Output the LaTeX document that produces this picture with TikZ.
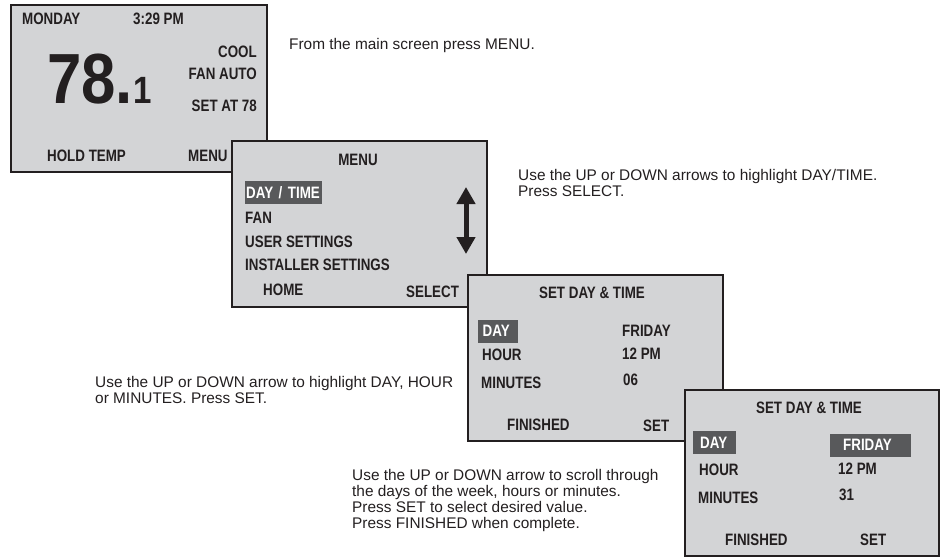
\documentclass[tikz,border=0pt]{standalone}
\usepackage{fontspec}
\setmainfont{Liberation Sans}
\newfontfamily\lcdfont{Liberation Sans}[FakeStretch=0.81]
\newfontfamily\tempfont{Liberation Sans}[FakeStretch=0.87]
\usepackage{xcolor}
\usepackage{tikz}
\usetikzlibrary{arrows.meta}
\definecolor{lcdgray}{RGB}{211,212,214}
\definecolor{hilite}{RGB}{88,89,91}
\definecolor{ink}{RGB}{35,31,32}

\begin{document}
\begin{tikzpicture}[
  x=1pt, y=-1pt,
  screen/.style={rectangle, draw=ink, line width=2pt, fill=lcdgray, inner sep=0pt, outer sep=0pt, anchor=north west},
  lcd/.style={inner sep=0pt, anchor=west, text=ink, font=\lcdfont\bfseries\fontsize{16.5}{18}\selectfont},
  title/.style={lcd, anchor=center},
  hilite/.style={lcd, fill=hilite, text=white, inner ysep=0pt, minimum height=23pt, align=left},
  note/.style={inner sep=0pt, anchor=north west, align=left, text=ink, font=\fontsize{15.4}{16}\selectfont},
  updown/.style={{Triangle[width=18pt,length=17pt]}-{Triangle[width=18pt,length=17pt]}, line width=5pt, draw=ink}
]
\useasboundingbox (0,0) rectangle (941,557);

\node[screen, minimum width=256pt, minimum height=167pt] (home) at (11,5) {};
\node[lcd] (homeDay) at (22,19) {MONDAY};
\node[lcd] (homeClock) at (133,19) {3:29 PM};
\node[lcd, anchor=base west, font=\tempfont\bfseries\fontsize{71}{71}\selectfont] (homeTemp) at (47,103) {78.{\fontsize{38}{38}\selectfont 1}};
\node[lcd, anchor=east] (homeMode) at (257,52) {COOL};
\node[lcd, anchor=east] (homeFan) at (257,74) {FAN AUTO};
\node[lcd, anchor=east] (homeSet) at (257,106) {SET AT 78};
\node[lcd] (homeHold) at (47,156) {HOLD TEMP};
\node[lcd] (homeMenu) at (188,156) {MENU};
\node[note, anchor=base west] (noteMenu) at (289,49) {From the main screen press MENU.};

\node[screen, minimum width=255pt, minimum height=166pt] (menu) at (232,141) {};
\node[title] (menuTitle) at (358,160) {MENU};
\node[hilite, inner xsep=1pt, text width=75pt] (menuDayTime) at (245,192.5) {DAY / TIME};
\node[lcd] (menuFan) at (245,218) {FAN};
\node[lcd] (menuUser) at (245,242) {USER SETTINGS};
\node[lcd] (menuInstaller) at (245,265) {INSTALLER SETTINGS};
\node[lcd] (menuHome) at (263,290) {HOME};
\node[lcd] (menuSelect) at (406,292) {SELECT};
\coordinate (menuUp) at (466,187);
\coordinate (menuDown) at (466,254);
\draw[updown] (menuUp) -- (menuDown);
\node[note] (noteSelect) at (518,169) {Use the UP or DOWN arrows to highlight DAY/TIME.\\Press SELECT.};

\node[screen, minimum width=255pt, minimum height=166pt] (pick) at (468,275) {};
\node[title] (pickTitle) at (592,293) {SET DAY \& TIME};
\node[hilite, inner xsep=4.5pt, text width=31pt] (pickDay) at (478,331) {DAY};
\node[lcd] (pickDayVal) at (622,331) {FRIDAY};
\node[lcd] (pickHour) at (482,355) {HOUR};
\node[lcd] (pickHourVal) at (622,354) {12 PM};
\node[lcd] (pickMin) at (481,383) {MINUTES};
\node[lcd] (pickMinVal) at (623,380) {06};
\node[lcd] (pickDone) at (507,425) {FINISHED};
\node[lcd] (pickSet) at (643,426) {SET};
\node[note] (notePick) at (95,376) {Use the UP or DOWN arrow to highlight DAY, HOUR\\or MINUTES. Press SET.};

\node[screen, minimum width=254pt, minimum height=166pt] (edit) at (685,390) {};
\node[title] (editTitle) at (809,408) {SET DAY \& TIME};
\node[hilite, inner xsep=7pt, text width=29pt] (editDay) at (693,442.5) {DAY};
\node[hilite, inner xsep=13pt, text width=55pt] (editDayVal) at (830,445) {FRIDAY};
\node[lcd] (editHour) at (699,470) {HOUR};
\node[lcd] (editHourVal) at (838,469) {12 PM};
\node[lcd] (editMin) at (698,498) {MINUTES};
\node[lcd] (editMinVal) at (839,495) {31};
\node[lcd] (editDone) at (725,540) {FINISHED};
\node[lcd] (editSet) at (860,540) {SET};
\node[note] (noteEdit) at (352,469) {Use the UP or DOWN arrow to scroll through\\the days of the week, hours or minutes.\\Press SET to select desired value.\\Press FINISHED when complete.};
\end{tikzpicture}
\end{document}
